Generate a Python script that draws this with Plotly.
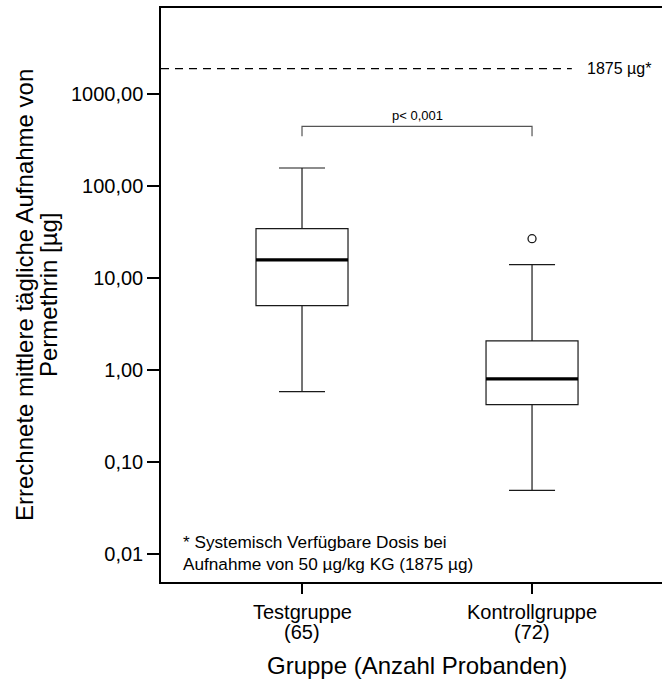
import numpy as np
import plotly.graph_objects as go

FONT = "Liberation Sans, Arial, sans-serif"
INK = "#000000"

# --- data ---
groups = ["Testgruppe", "Kontrollgruppe"]
n_probands = [65, 72]
q1 = [5.0, 0.42]
median = [15.7, 0.80]
q3 = [34.2, 2.07]
lower_whisker = [0.58, 0.049]
upper_whisker = [156.0, 13.9]
outlier_groups = ["Kontrollgruppe"]
outlier_values = [26.6]
threshold = 1875.0            # systemisch verfügbare Dosis
bracket_low, bracket_high = 344.0, 441.0
p_text = "p< 0,001"

y_tickvals = [0.01, 0.1, 1, 10, 100, 1000]
y_ticktext = ["0,01", "0,10", "1,00", "10,00", "100,00", "1000,00"]

fig = go.Figure()

# boxes
fig.add_trace(go.Box(
    x=groups, q1=q1, median=median, q3=q3,
    lowerfence=lower_whisker, upperfence=upper_whisker,
    fillcolor="white", line=dict(color="#1a1a1a", width=1.2),
    width=0.4, whiskerwidth=0.5, boxpoints=False, hoverinfo="skip",
))
# thick median bar (degenerate box)
fig.add_trace(go.Box(
    x=groups, q1=median, median=median, q3=median,
    lowerfence=median, upperfence=median,
    fillcolor="black", line=dict(color=INK, width=3.2),
    width=0.4, whiskerwidth=0, boxpoints=False, hoverinfo="skip",
))
# outlier
fig.add_trace(go.Scatter(
    x=outlier_groups, y=outlier_values, mode="markers",
    marker=dict(symbol="circle-open", size=8, color="#1a1a1a", line=dict(width=1.3)),
    hoverinfo="skip",
))
# significance bracket
fig.add_trace(go.Scatter(
    x=[groups[0], groups[0], groups[1], groups[1]],
    y=[bracket_low, bracket_high, bracket_high, bracket_low],
    mode="lines", line=dict(color="#555555", width=1.2), hoverinfo="skip",
))

# dashed threshold line
fig.add_shape(type="line", xref="paper", yref="y", x0=0, x1=0.82,
              y0=threshold, y1=threshold,
              line=dict(color=INK, width=1.2, dash="8px,6px"))

ann = []
ann.append(dict(text="1875 µg*", xref="paper", x=0.846, xanchor="left",
                yref="y", y=np.log10(threshold), yanchor="middle",
                showarrow=False, font=dict(size=16)))
ann.append(dict(text=p_text, xref="x", x=0.5, xanchor="center",
                yref="y", y=np.log10(bracket_high), yanchor="bottom", yshift=1,
                showarrow=False, font=dict(size=13)))
ann.append(dict(text="* Systemisch Verfügbare Dosis bei<br>Aufnahme von 50 µg/kg KG (1875 µg)",
                xref="paper", x=0.04, xanchor="left", align="left",
                yref="paper", y=0.0505, yanchor="middle",
                showarrow=False, font=dict(size=17.2)))
for g, n in zip(groups, n_probands):
    ann.append(dict(text=g, xref="x", x=g, yref="paper", y=-0.0523, yanchor="middle",
                    showarrow=False, font=dict(size=20)))
    ann.append(dict(text=f"({n})", xref="x", x=g, yref="paper", y=-0.0871, yanchor="middle",
                    showarrow=False, font=dict(size=20)))
ann.append(dict(text="Gruppe (Anzahl Probanden)", xref="x", x=0.5, yref="paper", y=-0.1446,
                yanchor="middle", showarrow=False, font=dict(size=24)))
ann.append(dict(text="Errechnete mittlere tägliche Aufnahme von", xref="paper", x=-0.2735,
                xanchor="center", yref="paper", y=0.5, yanchor="middle", textangle=-90,
                showarrow=False, font=dict(size=24)))
ann.append(dict(text="Permethrin [µg]", xref="paper", x=-0.2255,
                xanchor="center", yref="paper", y=0.5, yanchor="middle", textangle=-90,
                showarrow=False, font=dict(size=24)))

fig.update_layout(
    width=662, height=679,
    margin=dict(l=161, r=0, t=8, b=97),
    plot_bgcolor="white", paper_bgcolor="white",
    font=dict(family=FONT, color=INK, size=20),
    showlegend=False,
    annotations=ann,
    xaxis=dict(type="category", categoryorder="array", categoryarray=groups,
               range=[-0.613, 1.565], showgrid=False, zeroline=False,
               showline=True, linecolor=INK, linewidth=1.5, mirror=True,
               ticks="outside", ticklen=10, tickwidth=1.5, tickcolor=INK,
               showticklabels=False),
    yaxis=dict(type="log", range=[-2.304, 3.931], showgrid=False, zeroline=False,
               showline=True, linecolor=INK, linewidth=1.5,
               tickvals=y_tickvals, ticktext=y_ticktext,
               ticks="outside", ticklen=12, tickwidth=1.5, tickcolor=INK,
               tickfont=dict(size=20)),
)

# drop the page's default body margin so the figure fills the window exactly
fig.write_html("out.html", config={"displayModeBar": False},
               post_script="document.body.style.margin='0';document.body.style.overflow='hidden';")
